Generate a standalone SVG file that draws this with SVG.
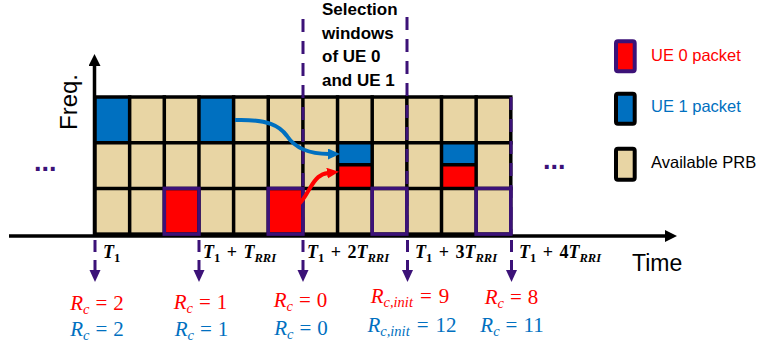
<svg xmlns="http://www.w3.org/2000/svg" width="763" height="345" viewBox="0 0 763 345">
<style>
.grid{stroke:#000;stroke-width:3.5;fill:none;stroke-linecap:square}
.tan{fill:#E8D5A4}
.blue{fill:#0070C0}
.red{fill:#FF0000}
.pb{fill:none;stroke:#3C1278;stroke-width:3.5}
.vd{stroke:#3C1278;stroke-width:3;stroke-dasharray:13 9;fill:none}
.dd{stroke:#3C1278;stroke-width:3;stroke-dasharray:12 8;fill:none}
.ax{stroke:#000;stroke-width:3.5;fill:none}
.sans{font-family:"Liberation Sans",Arial,sans-serif}
.tl{font-family:"Liberation Serif","Times New Roman",serif;font-weight:bold;font-size:18px;fill:#000}
.sub{font-size:12.5px}
.it{font-style:italic}
.rc{font-family:"Liberation Serif","Times New Roman",serif;font-size:21px;text-anchor:middle}
.rs{font-size:14.5px;font-style:italic}
.dots{font-family:"Liberation Sans",Arial,sans-serif;font-weight:bold;font-size:27px;fill:#3C1278}
</style>
<defs>
<marker id="ahk" markerUnits="userSpaceOnUse" markerWidth="14" markerHeight="12" refX="1" refY="6" orient="auto"><path d="M0,0 L12,6 L0,12 z" fill="#000"/></marker>
<marker id="ahp" markerUnits="userSpaceOnUse" markerWidth="14" markerHeight="12" refX="0" refY="5.5" orient="auto"><path d="M0,0 L12,5.5 L0,11 z" fill="#3C1278"/></marker>
<marker id="ahb" markerUnits="userSpaceOnUse" markerWidth="14" markerHeight="12" refX="1" refY="5.5" orient="auto"><path d="M0,0 L12,5.5 L0,11 z" fill="#0070C0"/></marker>
<marker id="ahr" markerUnits="userSpaceOnUse" markerWidth="14" markerHeight="12" refX="1" refY="5.5" orient="auto"><path d="M0,0 L12,5.5 L0,11 z" fill="#FF0000"/></marker>
</defs>

<g id="axes">
<line class="ax" x1="9" y1="236" x2="666" y2="236" marker-end="url(#ahk)"/>
<line class="ax" x1="94.5" y1="236" x2="94.5" y2="65" marker-end="url(#ahk)"/>
<text class="sans" x="632" y="271" font-size="23" fill="#000">Time</text>
<text class="sans" x="0" y="0" font-size="24" fill="#000" text-anchor="middle" transform="translate(77,102) rotate(-90)">Freq.</text>
</g>

<g id="grid">
<rect class="tan" x="95" y="97" width="415.8" height="137.1"/>
<rect class="blue" x="95" y="97" width="34.65" height="45.7"/>
<rect class="blue" x="198.95" y="97" width="34.65" height="45.7"/>
<rect class="red" x="164.3" y="188.4" width="34.65" height="45.7"/>
<rect class="red" x="268.25" y="188.4" width="34.65" height="45.7"/>
<rect class="blue" x="337.55" y="142.7" width="34.65" height="22"/>
<rect class="red" x="337.55" y="164.7" width="34.65" height="23.7"/>
<rect class="blue" x="441.5" y="142.7" width="34.65" height="22"/>
<rect class="red" x="441.5" y="164.7" width="34.65" height="23.7"/>
<path class="grid" d="M129.65,97V234.1 M164.3,97V234.1 M198.95,97V234.1 M233.6,97V234.1 M268.25,97V234.1 M302.9,97V234.1 M337.55,97V234.1 M372.2,97V234.1 M406.85,97V234.1 M441.5,97V234.1 M476.15,97V234.1 M95,142.7H510.8 M95,188.4H510.8 M337.55,164.7H372.2 M441.5,164.7H476.15"/>
<rect class="grid" x="95" y="97" width="415.8" height="137.1"/>
<rect class="pb" x="164.3" y="188.4" width="34.65" height="45.7"/>
<rect class="pb" x="268.25" y="188.4" width="34.65" height="45.7"/>
<rect class="pb" x="372.2" y="188.4" width="34.65" height="45.7"/>
<rect class="pb" x="476.15" y="188.4" width="34.65" height="45.7"/>
<line class="vd" x1="303" y1="19" x2="303" y2="234"/>
<line class="vd" x1="407" y1="17" x2="407" y2="234"/>
<line class="vd" x1="511" y1="97" x2="511" y2="234"/>
</g>

<g id="selection-label" class="sans" font-weight="bold" font-size="17" fill="#000">
<text x="322" y="14.5">Selection</text>
<text x="322" y="38.5">windows</text>
<text x="322" y="62">of UE 0</text>
<text x="322" y="85.5">and UE 1</text>
</g>

<g id="ellipses">
<text class="dots" x="34" y="171">...</text>
<text class="dots" x="543" y="169">...</text>
</g>

<g id="connectors">
<path d="M235,120 C268,119 280,126 287,136 C295,148 310,154 329,154" stroke="#0070C0" stroke-width="4" fill="none" marker-end="url(#ahb)"/>
<path d="M281,213 C300,209 304,198 310,188 C316,178 320,174 328,173" stroke="#FF0000" stroke-width="4" fill="none" marker-end="url(#ahr)"/>
<line class="dd" x1="95" y1="240" x2="95" y2="270" marker-end="url(#ahp)"/>
<line class="dd" x1="199" y1="240" x2="199" y2="270" marker-end="url(#ahp)"/>
<line class="dd" x1="303" y1="240" x2="303" y2="270" marker-end="url(#ahp)"/>
<line class="dd" x1="407.5" y1="240" x2="407.5" y2="270" marker-end="url(#ahp)"/>
<line class="dd" x1="511.5" y1="240" x2="511.5" y2="270" marker-end="url(#ahp)"/>
</g>

<g id="time-labels">
<text class="tl" x="103" y="258"><tspan class="it">T</tspan><tspan class="sub" dy="3.5">1</tspan></text>
<text class="tl" x="203" y="258"><tspan class="it">T</tspan><tspan class="sub" dy="3.5">1</tspan><tspan dx="6.5" dy="-3.5">+</tspan><tspan class="it" dx="6.5">T</tspan><tspan class="sub it" dy="3.5">RRI</tspan></text>
<text class="tl" x="307" y="258"><tspan class="it">T</tspan><tspan class="sub" dy="3.5">1</tspan><tspan dx="6.5" dy="-3.5">+</tspan><tspan dx="6.5">2</tspan><tspan class="it">T</tspan><tspan class="sub it" dy="3.5">RRI</tspan></text>
<text class="tl" x="415" y="258"><tspan class="it">T</tspan><tspan class="sub" dy="3.5">1</tspan><tspan dx="6.5" dy="-3.5">+</tspan><tspan dx="6.5">3</tspan><tspan class="it">T</tspan><tspan class="sub it" dy="3.5">RRI</tspan></text>
<text class="tl" x="519" y="258"><tspan class="it">T</tspan><tspan class="sub" dy="3.5">1</tspan><tspan dx="6.5" dy="-3.5">+</tspan><tspan dx="6.5">4</tspan><tspan class="it">T</tspan><tspan class="sub it" dy="3.5">RRI</tspan></text>
</g>

<g id="rc-labels">
<text class="rc" x="97" y="310" fill="#FF0000"><tspan font-style="italic">R</tspan><tspan class="rs" dy="4">c</tspan><tspan dx="6" dy="-4">=</tspan><tspan dx="6">2</tspan></text>
<text class="rc" x="97" y="336" fill="#0070C0"><tspan font-style="italic">R</tspan><tspan class="rs" dy="4">c</tspan><tspan dx="6" dy="-4">=</tspan><tspan dx="6">2</tspan></text>
<text class="rc" x="200.5" y="309" fill="#FF0000"><tspan font-style="italic">R</tspan><tspan class="rs" dy="4">c</tspan><tspan dx="6" dy="-4">=</tspan><tspan dx="6">1</tspan></text>
<text class="rc" x="201.5" y="336" fill="#0070C0"><tspan font-style="italic">R</tspan><tspan class="rs" dy="4">c</tspan><tspan dx="6" dy="-4">=</tspan><tspan dx="6">1</tspan></text>
<text class="rc" x="300.5" y="307" fill="#FF0000"><tspan font-style="italic">R</tspan><tspan class="rs" dy="4">c</tspan><tspan dx="6" dy="-4">=</tspan><tspan dx="6">0</tspan></text>
<text class="rc" x="301" y="335" fill="#0070C0"><tspan font-style="italic">R</tspan><tspan class="rs" dy="4">c</tspan><tspan dx="6" dy="-4">=</tspan><tspan dx="6">0</tspan></text>
<text class="rc" x="410" y="303" fill="#FF0000"><tspan font-style="italic">R</tspan><tspan class="rs" dy="4">c,init</tspan><tspan dx="7" dy="-4">=</tspan><tspan dx="7">9</tspan></text>
<text class="rc" x="412" y="332" fill="#0070C0"><tspan font-style="italic">R</tspan><tspan class="rs" dy="4">c,init</tspan><tspan dx="7" dy="-4">=</tspan><tspan dx="7">12</tspan></text>
<text class="rc" x="511.5" y="304" fill="#FF0000"><tspan font-style="italic">R</tspan><tspan class="rs" dy="4">c</tspan><tspan dx="6" dy="-4">=</tspan><tspan dx="6">8</tspan></text>
<text class="rc" x="512" y="332" fill="#0070C0"><tspan font-style="italic">R</tspan><tspan class="rs" dy="4">c</tspan><tspan dx="6" dy="-4">=</tspan><tspan dx="6">11</tspan></text>
</g>

<g id="legend-ue0">
<rect x="616" y="41.3" width="18.7" height="30" rx="2" fill="#FF0000" stroke="#3C1278" stroke-width="4"/>
<text class="sans" x="651" y="61" font-size="16.5" fill="#FF0000">UE 0 packet</text>
</g>
<g id="legend-ue1">
<rect x="616" y="93.7" width="18.7" height="30" rx="2" fill="#0070C0" stroke="#000" stroke-width="4"/>
<text class="sans" x="651" y="112" font-size="16.5" fill="#0070C0">UE 1 packet</text>
</g>
<g id="legend-prb">
<rect x="616" y="148.7" width="18.7" height="31" rx="2" fill="#E8D5A4" stroke="#000" stroke-width="4"/>
<text class="sans" x="651" y="168" font-size="16.5" fill="#000">Available PRB</text>
</g>
</svg>
